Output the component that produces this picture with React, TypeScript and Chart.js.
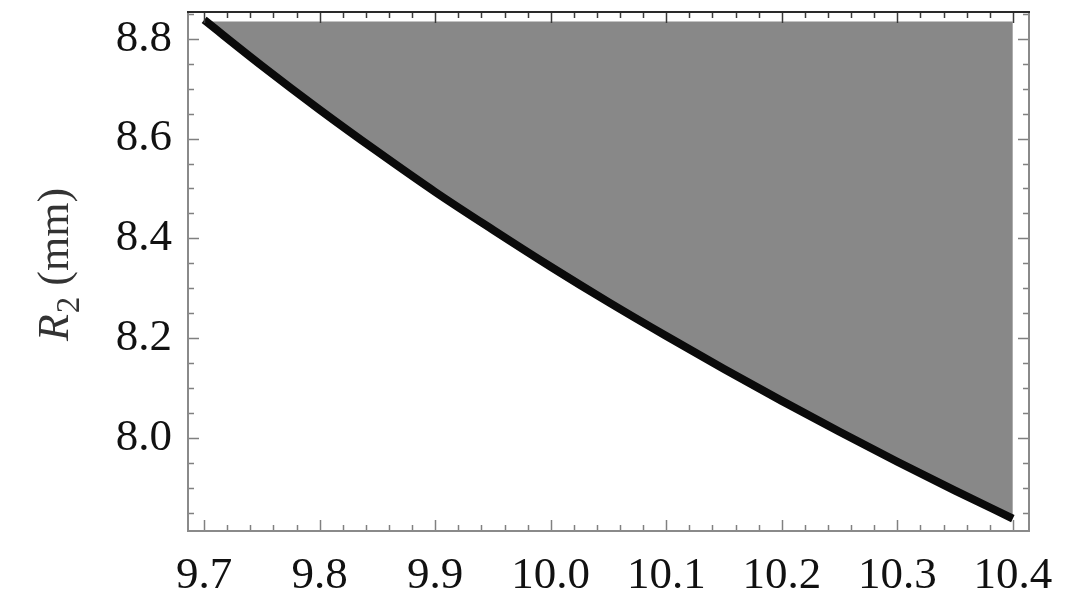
import React, { useEffect, useRef } from 'react';
import { Chart, registerables } from 'chart.js';

Chart.register(...registerables);

// R1 (mm) sample positions and the boundary R2 (mm)
const r1Values = [9.70, 9.75, 9.80, 9.85, 9.90, 9.95, 10.00, 10.05, 10.10, 10.15, 10.20, 10.25, 10.30, 10.35, 10.40];
const r2Boundary = [8.838, 8.746, 8.658, 8.574, 8.493, 8.417, 8.343, 8.272, 8.204, 8.138, 8.074, 8.012, 7.952, 7.894, 7.838];
// top edge of the shaded (feasible) region
const shadeTop = [8.835, 8.835, 8.835, 8.835, 8.835, 8.835, 8.835, 8.835, 8.835, 8.835, 8.835, 8.835, 8.835, 8.835, 8.835];

const xMajorTicks = [9.7, 9.8, 9.9, 10.0, 10.1, 10.2, 10.3, 10.4];
const yMajorTicks = [8.0, 8.2, 8.4, 8.6, 8.8];
const xMinorStep = 0.02;
const yMinorStep = 0.05;
const xRange = [9.686, 10.414];
const yRange = [7.813, 8.854];

const SERIF = '"Liberation Serif", "Times New Roman", serif';

const framePlugin = {
  id: 'mmaFrame',
  afterDraw(chart: any) {
    const { ctx, chartArea, scales } = chart;
    const { left, right, top, bottom } = chartArea;
    const xs = scales.x;
    const ys = scales.y;
    ctx.save();
    const majLen = 11;
    const minLen = 6;
    const isMajor = (v: number, list: number[]) => list.some((m) => Math.abs(m - v) < 1e-6);

    // x ticks (bottom & top)
    const xStart = Math.ceil(xRange[0] / xMinorStep - 1e-9);
    const xEnd = Math.floor(xRange[1] / xMinorStep + 1e-9);
    for (let i = xStart; i <= xEnd; i++) {
      const v = Math.round(i * xMinorStep * 1000) / 1000;
      const px = Math.round(xs.getPixelForValue(v)) + 0.5;
      const len = isMajor(v, xMajorTicks) ? majLen : minLen;
      ctx.lineWidth = 1.5;
      ctx.strokeStyle = '#808080';
      ctx.beginPath();
      ctx.moveTo(px, bottom);
      ctx.lineTo(px, bottom - len);
      ctx.stroke();
      ctx.strokeStyle = '#3a3a3a';
      ctx.beginPath();
      ctx.moveTo(px, top);
      ctx.lineTo(px, top + len);
      ctx.stroke();
    }
    // y ticks (left & right)
    const yStart = Math.ceil(yRange[0] / yMinorStep - 1e-9);
    const yEnd = Math.floor(yRange[1] / yMinorStep + 1e-9);
    for (let i = yStart; i <= yEnd; i++) {
      const v = Math.round(i * yMinorStep * 1000) / 1000;
      const py = Math.round(ys.getPixelForValue(v)) + 0.5;
      const len = isMajor(v, yMajorTicks) ? majLen : minLen;
      ctx.lineWidth = 1.5;
      ctx.strokeStyle = '#808080';
      ctx.beginPath();
      ctx.moveTo(left, py);
      ctx.lineTo(left + len, py);
      ctx.moveTo(right, py);
      ctx.lineTo(right - len, py);
      ctx.stroke();
    }
    // frame
    ctx.lineWidth = 2;
    ctx.strokeStyle = '#8a8a8a';
    ctx.beginPath();
    ctx.moveTo(left, top);
    ctx.lineTo(left, bottom);
    ctx.lineTo(right, bottom);
    ctx.lineTo(right, top);
    ctx.stroke();
    ctx.strokeStyle = '#2a2a2a';
    ctx.beginPath();
    ctx.moveTo(left - 1, top);
    ctx.lineTo(right + 1, top);
    ctx.stroke();

    // y-axis title: R_2 (mm)
    ctx.translate(68, 265);
    ctx.rotate(-Math.PI / 2);
    ctx.fillStyle = '#333333';
    ctx.textBaseline = 'alphabetic';
    ctx.textAlign = 'left';
    const fR = 'italic 44px ' + SERIF;
    const f2 = '33px ' + SERIF;
    const fM = '44px ' + SERIF;
    ctx.font = fR;
    const wR = ctx.measureText('R').width;
    ctx.font = f2;
    const w2 = ctx.measureText('2').width;
    ctx.font = fM;
    const wM = ctx.measureText(' (mm)').width;
    let x0 = -(wR + w2 + wM) / 2;
    ctx.font = fR;
    ctx.fillText('R', x0, 0);
    x0 += wR + 1;
    ctx.font = f2;
    ctx.fillText('2', x0, 11);
    x0 += w2;
    ctx.font = fM;
    ctx.fillText(' (mm)', x0, 0);
    ctx.restore();
  },
};

export default function App() {
  const canvasRef = useRef<HTMLCanvasElement | null>(null);

  useEffect(() => {
    if (!canvasRef.current) return;
    const curve = r1Values.map((x, i) => ({ x, y: r2Boundary[i] }));
    const top = r1Values.map((x, i) => ({ x, y: shadeTop[i] }));
    const chart = new Chart(canvasRef.current, {
      type: 'line',
      data: {
        datasets: [
          {
            label: 'region',
            data: top,
            borderWidth: 0,
            borderColor: 'rgba(0,0,0,0)',
            backgroundColor: '#888888',
            pointRadius: 0,
            fill: '+1',
            order: 2,
          },
          {
            label: 'boundary',
            data: curve,
            borderColor: '#0a0a0a',
            borderWidth: 8,
            borderCapStyle: 'butt',
            borderJoinStyle: 'round',
            cubicInterpolationMode: 'monotone',
            pointRadius: 0,
            fill: false,
            order: 1,
          },
        ],
      },
      options: {
        animation: false,
        responsive: false,
        events: [],
        layout: { padding: { left: 0, top: 12, right: 49, bottom: 0 } },
        plugins: {
          legend: { display: false },
          tooltip: { enabled: false },
          title: { display: false },
          filler: { drawTime: 'beforeDatasetsDraw' },
        } as any,
        scales: {
          x: {
            type: 'linear',
            min: xRange[0],
            max: xRange[1],
            grid: { display: false, drawTicks: false },
            border: { display: false },
            afterBuildTicks: (scale: any) => {
              scale.ticks = xMajorTicks.map((v) => ({ value: v }));
            },
            afterFit: (scale: any) => {
              scale.height = 80;
              scale.paddingLeft = 0;
              scale.paddingRight = 0;
            },
            ticks: {
              padding: 18,
              autoSkip: false,
              maxRotation: 0,
              color: '#111111',
              font: { family: SERIF, size: 45 },
              callback: (v: any) => Number(v).toFixed(1),
            },
          },
          y: {
            type: 'linear',
            min: yRange[0],
            max: yRange[1],
            grid: { display: false, drawTicks: false },
            border: { display: false },
            afterBuildTicks: (scale: any) => {
              scale.ticks = yMajorTicks.map((v) => ({ value: v }));
            },
            afterFit: (scale: any) => {
              scale.width = 188;
              scale.paddingTop = 0;
              scale.paddingBottom = 0;
            },
            ticks: {
              padding: 16,
              autoSkip: false,
              color: '#111111',
              font: { family: SERIF, size: 45 },
              callback: (v: any) => Number(v).toFixed(1),
            },
          },
        },
      },
      plugins: [framePlugin],
    });
    return () => chart.destroy();
  }, []);

  return (
    <div style={{ position: 'absolute', left: 0, top: 0, width: 1078, height: 611, background: '#ffffff' }}>
      <canvas ref={canvasRef} width={1078} height={611} style={{ display: 'block' }} />
    </div>
  );
}
